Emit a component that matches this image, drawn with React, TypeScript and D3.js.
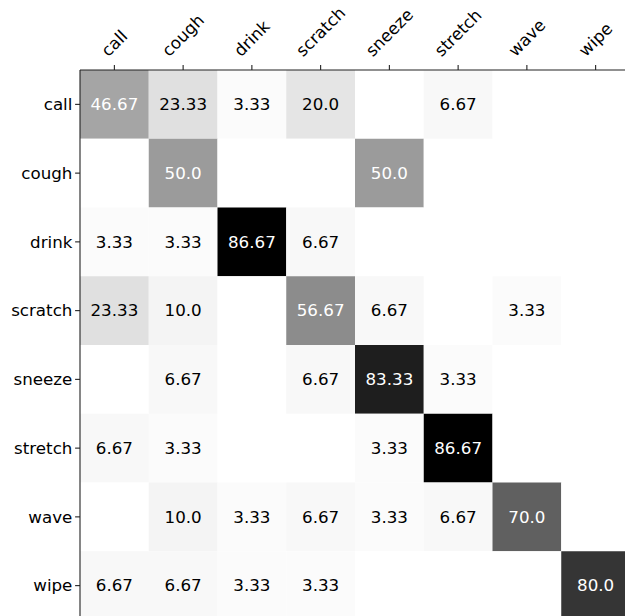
import React, { useEffect, useRef } from "react";
import * as d3 from "d3";

// Action classes (rows: true label, columns: predicted label)
const classes = ["call", "cough", "drink", "scratch", "sneeze", "stretch", "wave", "wipe"];

// Row-normalised confusion percentages
const callRow = [46.67, 23.33, 3.33, 20.0, 0, 6.67, 0, 0];
const coughRow = [0, 50.0, 0, 0, 50.0, 0, 0, 0];
const drinkRow = [3.33, 3.33, 86.67, 6.67, 0, 0, 0, 0];
const scratchRow = [23.33, 10.0, 0, 56.67, 6.67, 0, 3.33, 0];
const sneezeRow = [0, 6.67, 0, 6.67, 83.33, 3.33, 0, 0];
const stretchRow = [6.67, 3.33, 0, 0, 3.33, 86.67, 0, 0];
const waveRow = [0, 10.0, 3.33, 6.67, 3.33, 6.67, 70.0, 0];
const wipeRow = [6.67, 6.67, 3.33, 3.33, 0, 0, 0, 80.0];

const matrix = [callRow, coughRow, drinkRow, scratchRow, sneezeRow, stretchRow, waveRow, wipeRow];

const W = 625;
const H = 616;
const FONT = "'DejaVu Sans', sans-serif";
const FS = 16.7;

const fmt = (v: number) => (Number.isInteger(v) ? v.toFixed(1) : String(v));

export default function App() {
  const ref = useRef<SVGSVGElement | null>(null);

  useEffect(() => {
    document.body.style.margin = "0";
    const svg = d3.select(ref.current);
    svg.selectAll("*").remove();

    const x0 = 80;
    const y0 = 70;
    const size = 550;
    const x = d3.scaleBand<string>().domain(classes).range([x0, x0 + size]);
    const y = d3.scaleBand<string>().domain(classes).range([y0, y0 + size]);

    const maxV = d3.max(matrix.flat()) as number;
    const shade = d3
      .scaleLinear<number>()
      .domain([0, 10, 23.33, 46.67, 50, 56.67, 70, 80, 83.33, 86.67])
      .range([255, 244, 224, 165, 155, 140, 96, 53, 30, 0])
      .clamp(true);
    const fill = (v: number) => {
      const g = Math.round(shade(v));
      return `rgb(${g},${g},${g})`;
    };

    const cells = matrix.flatMap((row, i) =>
      row.map((v, j) => ({ r: classes[i], c: classes[j], v }))
    );

    const g = svg.append("g");
    g.selectAll("rect.cell")
      .data(cells)
      .join("rect")
      .attr("class", "cell")
      .attr("x", (d) => x(d.c)!)
      .attr("y", (d) => y(d.r)!)
      .attr("width", x.bandwidth())
      .attr("height", y.bandwidth())
      .attr("fill", (d) => fill(d.v));

    g.selectAll("text.val")
      .data(cells.filter((d) => d.v > 0))
      .join("text")
      .attr("class", "val")
      .attr("x", (d) => x(d.c)! + x.bandwidth() / 2)
      .attr("y", (d) => y(d.r)! + y.bandwidth() / 2)
      .attr("dy", "0.346em")
      .attr("text-anchor", "middle")
      .attr("font-family", FONT)
      .attr("font-size", FS)
      .attr("fill", (d) => (d.v > maxV / 2 ? "#ffffff" : "#000000"))
      .text((d) => fmt(d.v));

    // spines
    const spine = svg.append("g").attr("stroke", "#222").attr("stroke-width", 1.1);
    spine.append("line").attr("x1", x0).attr("x2", x0).attr("y1", y0).attr("y2", y0 + size);
    spine.append("line").attr("x1", x0).attr("x2", x0 + size).attr("y1", y0).attr("y2", y0);

    const tickLen = 4.9;
    // left ticks and labels
    classes.forEach((c) => {
      const cy = y(c)! + y.bandwidth() / 2;
      svg
        .append("line")
        .attr("x1", x0 - tickLen)
        .attr("x2", x0)
        .attr("y1", cy)
        .attr("y2", cy)
        .attr("stroke", "#222")
        .attr("stroke-width", 1.1);
      svg
        .append("text")
        .attr("x", x0 - tickLen - 2.7)
        .attr("y", cy)
        .attr("dy", "0.346em")
        .attr("text-anchor", "end")
        .attr("font-family", FONT)
        .attr("font-size", FS)
        .attr("fill", "#000")
        .text(c);
    });

    // top ticks and rotated labels
    const lineH = 1.164 * FS;
    classes.forEach((c) => {
      const cx = x(c)! + x.bandwidth() / 2;
      svg
        .append("line")
        .attr("x1", cx)
        .attr("x2", cx)
        .attr("y1", y0 - tickLen)
        .attr("y2", y0)
        .attr("stroke", "#222")
        .attr("stroke-width", 1.1);
      const t = svg
        .append("text")
        .attr("text-anchor", "middle")
        .attr("dy", "0.346em")
        .attr("font-family", FONT)
        .attr("font-size", FS)
        .attr("fill", "#000")
        .text(c);
      const w = (t.node() as SVGTextElement).getComputedTextLength();
      const ext = (w + lineH) / Math.SQRT2;
      const bottom = y0 - tickLen - 4.9;
      const cy = bottom - ext / 2;
      t.attr("x", cx).attr("y", cy).attr("transform", `rotate(-45 ${cx} ${cy})`);
    });
  }, []);

  return (
    <svg
      ref={ref}
      width={W}
      height={H}
      style={{ position: "absolute", left: 0, top: 0, background: "#fff" }}
    />
  );
}
